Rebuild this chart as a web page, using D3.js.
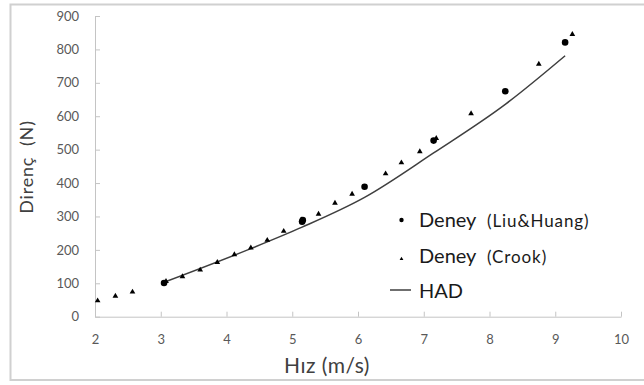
<!DOCTYPE html>
<html>
<head>
<meta charset="utf-8">
<script src="https://cdn.jsdelivr.net/npm/d3@7"></script>
<style>
  body { margin: 0; background: #fff; }
  svg text { font-family: Lato, "Open Sans", sans-serif; white-space: pre; }
</style>
</head>
<body>
<div id="chart"></div>
<script>
// Deney (Liu&Huang): velocity (m/s) and resistance (N)
const liuSpeed = [3.05, 5.15, 5.16, 6.10, 7.15, 8.24, 9.15];
const liuForce = [101, 284, 289, 389, 527, 675, 821];

// Deney (Crook)
const crookSpeed = [2.04, 2.31, 2.57, 3.08, 3.33, 3.60, 3.86, 4.12, 4.37, 4.62, 4.87,
                    5.14, 5.40, 5.65, 5.91, 6.42, 6.66, 6.94, 7.19, 7.72, 8.75, 9.26];
const crookForce = [48, 62, 74, 106, 120, 140, 163, 186, 206, 229, 256,
                    290, 307, 340, 367, 428, 461, 494, 534, 608, 756, 845];

// HAD
const hadSpeed = [3.05, 4.36, 5.15, 6.10, 7.15, 8.25, 9.15];
const hadForce = [103, 203, 268, 357, 490, 637, 781];

const xTicks = [2, 3, 4, 5, 6, 7, 8, 9, 10];
const yTicks = [0, 100, 200, 300, 400, 500, 600, 700, 800, 900];

const w = 644, h = 385;
const svg = d3.select("#chart").append("svg").attr("width", w).attr("height", h);

// frame
svg.append("rect")
    .attr("x", 10.5).attr("y", 4.5)
    .attr("width", 650).attr("height", 375.5)
    .style("fill", "none").style("stroke", "#d0d0d0").style("stroke-width", 2);

const x = d3.scaleLinear().domain([2, 10]).range([95, 621]);
const y = d3.scaleLinear().domain([0, 900]).range([316.7, 16]);

const axisColor = "#c4c4c4";
const labelColor = "#595959";

const gx = svg.append("g")
    .attr("transform", `translate(0,${y(0)})`)
    .call(d3.axisBottom(x).tickValues(xTicks).tickSizeInner(-5).tickSizeOuter(0).tickPadding(18));
const gy = svg.append("g")
    .attr("transform", `translate(${x(2)},0)`)
    .call(d3.axisLeft(y).tickValues(yTicks).tickSizeInner(-5).tickSizeOuter(0).tickPadding(16));

[gx, gy].forEach(g => {
    g.select(".domain").style("stroke", axisColor);
    g.selectAll(".tick line").style("stroke", axisColor);
    g.selectAll(".tick text")
        .style("fill", labelColor)
        .style("font-size", "13px")
        .style("font-family", "Lato, sans-serif");
});

// axis titles
svg.append("text")
    .text("Direnç  (N)")
    .attr("transform", "translate(33,167) rotate(-90)")
    .attr("text-anchor", "middle")
    .style("font-size", "18px")
    .style("letter-spacing", "0.8px")
    .style("fill", "#404040");

svg.append("text")
    .text("Hız (m/s)")
    .attr("x", 327).attr("y", 373)
    .attr("text-anchor", "middle")
    .style("font-size", "21px")
    .style("letter-spacing", "0.5px")
    .style("fill", "#404040");

// HAD line
const had = hadSpeed.map((s, i) => ({ s: s, f: hadForce[i] }));
const line = d3.line()
    .x(d => x(d.s))
    .y(d => y(d.f))
    .curve(d3.curveMonotoneX);
svg.append("path")
    .datum(had)
    .attr("d", line)
    .style("fill", "none")
    .style("stroke", "#3f3f3f")
    .style("stroke-width", 1.5);

// Crook triangles
const crook = crookSpeed.map((s, i) => ({ s: s, f: crookForce[i] }));
const tri = d3.symbol().type(d3.symbolTriangle).size(14);
svg.append("g")
    .selectAll("path")
    .data(crook)
    .enter()
    .append("path")
    .attr("d", tri)
    .attr("transform", d => `translate(${x(d.s)},${y(d.f)})`)
    .style("fill", "#000");

// Liu&Huang circles
const liu = liuSpeed.map((s, i) => ({ s: s, f: liuForce[i] }));
svg.append("g")
    .selectAll("circle")
    .data(liu)
    .enter()
    .append("circle")
    .attr("cx", d => x(d.s))
    .attr("cy", d => y(d.f))
    .attr("r", 3.3)
    .style("fill", "#000");

// legend
const legend = svg.append("g");
legend.append("circle").attr("cx", 401.5).attr("cy", 220).attr("r", 2.2).style("fill", "#000");
legend.append("path")
    .attr("d", d3.symbol().type(d3.symbolTriangle).size(6))
    .attr("transform", "translate(401.5,259)")
    .style("fill", "#000");
legend.append("line")
    .attr("x1", 390).attr("x2", 411).attr("y1", 290).attr("y2", 290)
    .style("stroke", "#3f3f3f").style("stroke-width", 1.5);

const rows = [
    { main: "Deney", sub: "(Liu&Huang)", y: 226.5 },
    { main: "Deney", sub: "(Crook)", y: 263 },
    { main: "HAD", sub: "", y: 298 }
];
rows.forEach(r => {
    legend.append("text")
        .text(r.main)
        .attr("x", 419).attr("y", r.y)
        .style("font-size", "20px")
        .style("fill", "#1a1a1a");
    if (r.sub) {
        legend.append("text")
            .text(r.sub)
            .attr("x", 487).attr("y", r.y)
            .style("font-size", "17px")
            .style("letter-spacing", "0.9px")
            .style("fill", "#1a1a1a");
    }
});
</script>
</body>
</html>
